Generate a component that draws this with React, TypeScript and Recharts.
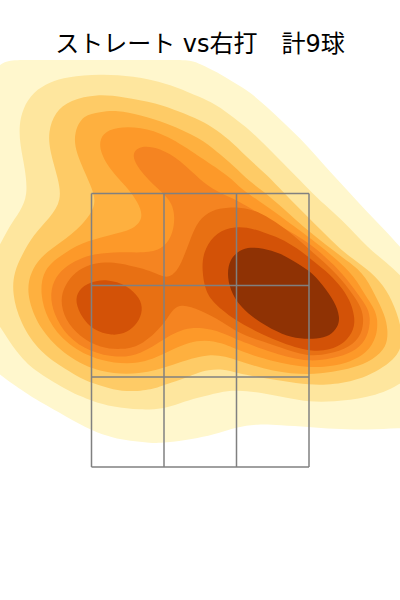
import React from 'react';
import { ScatterChart, Scatter, XAxis, YAxis } from 'recharts';

type P = [number, number];

const title = 'ストレート vs右打　計9球';
const columnEdges = [-108.5, -36, 36.5, 109];
const rowEdges = [346.5, 254.5, 163, 73];

const level1: P[] = [[-215,465],[-200,475],[-192,480],[-170,480],[-100,480],[-30,480],[-8,480],[0,476],[17,468],[33,458],[50,448],[67,433],[83,418],[100,402],[117,383],[133,365],[150,347],[167,328],[183,312],[200,293],[220,272],[230,190],[220,112],[200,112],[167,110],[133,111],[109,113],[80,115],[57,116],[37,113],[13,105],[-7,101],[-35,97],[-50,97],[-70,99],[-87,102],[-108,109],[-133,123],[-167,142],[-183,153],[-200,165],[-215,178],[-220,320]];
const level2: P[] = [[-208,282],[-200,295],[-190,315],[-180,328],[-172,345],[-175,372],[-180,395],[-181,415],[-177,432],[-167,448],[-150,458],[-133,463],[-100,466],[-67,464],[-33,457],[0,443],[17,435],[33,423],[50,410],[67,393],[83,377],[100,360],[117,342],[133,328],[150,312],[167,293],[187,277],[200,265],[220,245],[225,180],[200,153],[167,142],[133,138],[109,138],[87,142],[63,147],[37,150],[20,148],[-3,142],[-20,137],[-37,131],[-60,130],[-87,133],[-108,139],[-120,144],[-133,150],[-167,170],[-183,187],[-200,213],[-210,230]];
const level3: P[] = [[-178,285],[-167,305],[-150,322],[-138,340],[-142,362],[-150,388],[-152,408],[-145,428],[-130,440],[-103,446],[-77,443],[-43,437],[-20,428],[0,420],[17,410],[33,397],[50,380],[67,365],[83,348],[109,322],[133,298],[147,285],[172,268],[187,250],[197,228],[203,205],[200,183],[167,162],[133,155],[109,155],[83,159],[57,163],[37,167],[23,171],[8,170],[-3,167],[-20,160],[-37,155],[-43,152],[-65,148],[-87,150],[-108,157],[-120,162],[-133,170],[-160,187],[-180,217],[-188,247],[-186,268]];
const level4: P[] = [[-157,285],[-140,297],[-117,315],[-103,335],[-108,353],[-125,388],[-126,408],[-117,425],[-100,428],[-83,430],[-60,425],[-33,417],[0,402],[17,388],[33,375],[50,358],[62,350],[83,332],[109,308],[143,282],[163,268],[175,245],[185,225],[188,210],[187,193],[173,180],[153,172],[133,168],[109,165],[73,168],[37,180],[10,188],[-27,175],[-60,165],[-100,167],[-133,183],[-160,210],[-172,240],[-172,260],[-165,275]];
const level5: P[] = [[-138,285],[-120,297],[-90,305],[-67,310],[-56,322],[-62,338],[-73,353],[-90,370],[-102,392],[-98,407],[-83,413],[-60,413],[-33,405],[0,383],[17,372],[33,360],[40,352],[62,337],[83,322],[109,303],[150,270],[162,250],[172,235],[178,223],[177,203],[167,187],[150,178],[133,174],[109,172],[73,178],[37,190],[23,197],[-2,202],[-35,187],[-60,175],[-100,178],[-133,195],[-153,220],[-160,247],[-157,267],[-148,278]];
const level6: P[] = [[-70,385],[-60,395],[-40,392],[-20,380],[0,360],[17,348],[37,340],[60,326],[83,312],[109,298],[140,270],[155,250],[166,235],[171,223],[168,203],[157,190],[140,183],[109,177],[73,187],[37,200],[23,208],[-10,215],[-35,202],[-60,185],[-83,182],[-110,188],[-133,203],[-147,227],[-150,247],[-145,263],[-133,275],[-117,283],[-100,287],[-73,288],[-50,287],[-35,293],[-27,307],[-25,323],[-28,337],[-37,347],[-57,365]];
const level7: P[] = [[-140,240],[-135,255],[-125,268],[-110,276],[-95,278],[-80,277],[-60,272],[-47,268],[-35,262],[-27,265],[-20,273],[-10,300],[-2,320],[12,330],[27,333],[50,332],[70,322],[90,308],[109,291],[133,270],[150,250],[160,235],[164,223],[162,205],[150,193],[130,186],[107,183],[80,193],[57,200],[37,208],[23,218],[0,230],[-20,237],[-30,227],[-35,217],[-57,195],[-77,190],[-100,192],[-120,203],[-135,220]];
const level8Left: P[] = [[-125,238],[-122,250],[-110,258],[-93,261],[-73,255],[-60,242],[-57,230],[-62,217],[-73,207],[-88,204],[-107,210],[-118,222]];
const level8Right: P[] = [[2,270],[3,287],[13,305],[30,313],[47,313],[63,308],[80,302],[97,292],[112,280],[125,270],[140,255],[150,240],[155,223],[154,210],[145,197],[130,190],[109,188],[73,200],[37,218],[13,237],[5,250]];
const level9: P[] = [[27,267],[30,280],[37,288],[47,293],[63,292],[80,287],[97,277],[110,269],[122,256],[135,238],[140,223],[138,213],[130,204],[117,201],[100,201],[83,205],[60,217],[40,233],[30,250]];

const bands: { name: string; points: P[]; color: string }[] = [
  { name: 'level1', points: level1, color: '#fff7cd' },
  { name: 'level2', points: level2, color: '#fee69e' },
  { name: 'level3', points: level3, color: '#fecb66' },
  { name: 'level4', points: level4, color: '#feb03f' },
  { name: 'level5', points: level5, color: '#fd9929' },
  { name: 'level6', points: level6, color: '#f58421' },
  { name: 'level7', points: level7, color: '#e87013' },
  { name: 'level8Left', points: level8Left, color: '#d35207' },
  { name: 'level8Right', points: level8Right, color: '#d35207' },
  { name: 'level9', points: level9, color: '#8f3204' },
];

const gridSegments: P[][] = [
  ...columnEdges.map((x): P[] => [[x, rowEdges[0]], [x, rowEdges[3]]]),
  ...rowEdges.map((y): P[] => [[columnEdges[0], y], [columnEdges[3], y]]),
];

const noPoint = () => null;

export default function App() {
  return (
    <div style={{ position: 'absolute', left: 0, top: 0 }}>
      <ScatterChart width={400} height={600} margin={{ top: 60, right: 0, bottom: 60, left: 0 }}>
        <XAxis type="number" dataKey="x" domain={[-200, 200]} hide allowDataOverflow />
        <YAxis type="number" dataKey="y" domain={[0, 480]} hide allowDataOverflow />
        <text
          x={200}
          y={52}
          textAnchor="middle"
          fontSize={24}
          fontFamily="'DejaVu Sans','Noto Sans CJK JP',sans-serif"
          fill="#000"
        >
          {title}
        </text>
        {bands.map((b) => (
          <Scatter
            key={b.name}
            name={b.name}
            data={b.points.map(([x, y]) => ({ x, y }))}
            isAnimationActive={false}
            shape={noPoint}
            fill={b.color}
            line={{ fill: b.color, stroke: 'none' }}
            lineJointType="basisClosed"
          />
        ))}
        {gridSegments.map((seg, i) => (
          <Scatter
            key={`grid-${i}`}
            data={seg.map(([x, y]) => ({ x, y }))}
            isAnimationActive={false}
            shape={noPoint}
            line={{ stroke: '#808080', strokeWidth: 1.5, fill: 'none' }}
            lineJointType="linear"
          />
        ))}
      </ScatterChart>
    </div>
  );
}
